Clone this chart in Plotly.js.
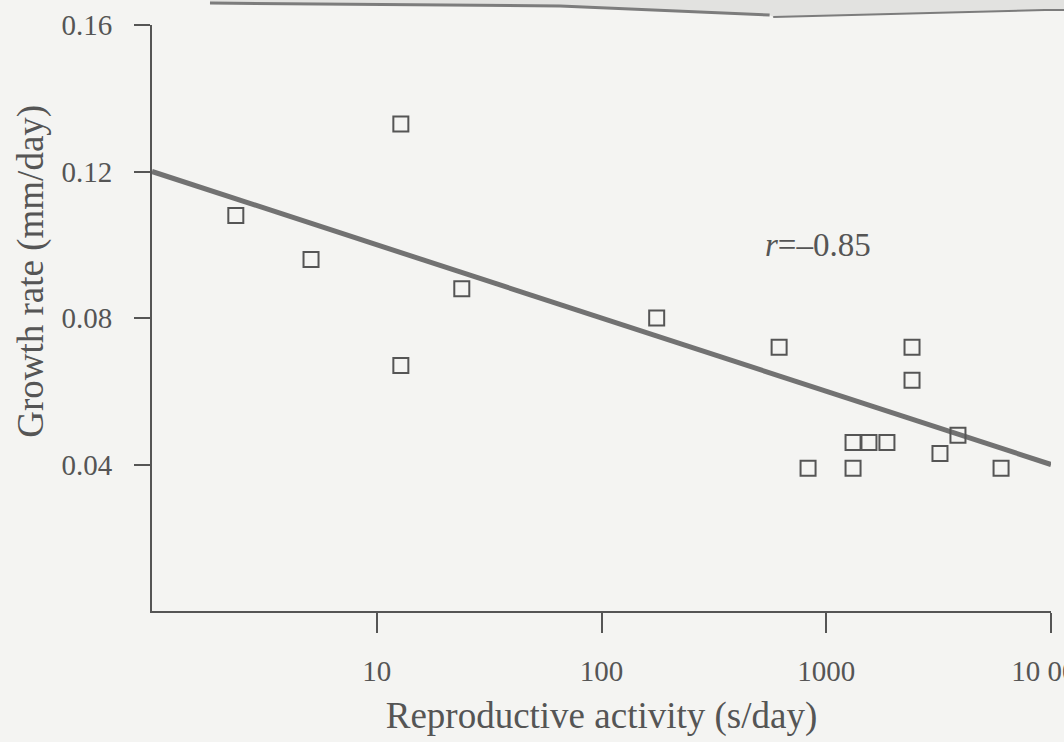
<!DOCTYPE html>
<html>
<head>
<meta charset="utf-8">
<script src="https://cdn.plot.ly/plotly-3.0.1.min.js"></script>
<style>html,body{margin:0;padding:0;background:#f4f4f2;overflow:hidden;}</style>
</head>
<body>
<div id="chart" style="width:1064px;height:742px;"></div>
<script>
// Reproductive activity (s/day)
const activity = [2.36, 5.1, 12.8, 12.8, 23.9, 176, 617, 830, 1316, 1316, 1549, 1862, 2408, 2408, 3206, 3855, 5995];
// Growth rate (mm/day)
const growth = [0.108, 0.096, 0.133, 0.067, 0.088, 0.080, 0.072, 0.039, 0.046, 0.039, 0.046, 0.046, 0.072, 0.063, 0.043, 0.048, 0.039];
// Regression line end points
const fitX = [1, 10000];
const fitY = [0.12, 0.04];
const xTicks = [10, 100, 1000, 10000];
const xTickText = ['10', '100', '1000', '10 000'];
const yTicks = [0.04, 0.08, 0.12, 0.16];
const yTickText = ['0.04', '0.08', '0.12', '0.16'];

const ink = '#555555';
const font = 'Liberation Serif, Times New Roman, serif';

const traces = [
  {
    x: fitX, y: fitY, mode: 'lines', type: 'scatter',
    line: {color: '#727272', width: 5}, hoverinfo: 'skip', showlegend: false
  },
  {
    x: activity, y: growth, mode: 'markers', type: 'scatter',
    marker: {symbol: 'square-open', size: 15, color: ink, line: {color: ink, width: 2}},
    showlegend: false
  }
];

const layout = {
  width: 1064, height: 742,
  paper_bgcolor: '#f4f4f2', plot_bgcolor: '#f4f4f2',
  margin: {l: 152, r: 13, t: 25, b: 131},
  font: {family: font, color: ink},
  xaxis: {
    type: 'log', range: [0, 4], showgrid: false, zeroline: false,
    showline: true, linecolor: ink, linewidth: 2,
    ticks: 'outside', ticklen: 20, tickwidth: 2, tickcolor: ink,
    tickvals: xTicks, ticktext: xTickText, ticklabelstandoff: 13,
    ticklabeloverflow: 'allow',
    tickfont: {family: font, size: 29, color: ink},
    title: {text: 'Reproductive activity (s/day)', font: {family: font, size: 37, color: ink}, standoff: 16},
    automargin: false
  },
  yaxis: {
    range: [0, 0.16], showgrid: false, zeroline: false,
    showline: true, linecolor: ink, linewidth: 2,
    ticks: 'outside', ticklen: 16, tickwidth: 2, tickcolor: ink,
    tickvals: yTicks, ticktext: yTickText, ticklabelstandoff: 16,
    tickfont: {family: font, size: 29, color: ink},
    automargin: false
  },
  annotations: [
    {
      text: 'Growth rate (mm/day)', xref: 'paper', yref: 'paper',
      x: -0.135, y: 0.58, xanchor: 'center', yanchor: 'middle',
      textangle: -90, showarrow: false,
      font: {family: font, size: 37, color: ink}
    },
    {
      text: '<i>r</i>=–0.85', xref: 'x', yref: 'y',
      x: 2.963, y: 0.1, xanchor: 'center', yanchor: 'middle', showarrow: false,
      font: {family: font, size: 33, color: ink}
    }
  ],
  shapes: [
    {
      type: 'path', xref: 'paper', yref: 'paper', layer: 'above',
      path: 'M 0.0645 1.0427 L 0.0645 1.0375 L 0.454 1.0324 L 0.687 1.017 L 0.691 1.0137 L 0.993 1.0256 L 1.0145 1.0256 L 1.0145 1.0427 Z',
      fillcolor: '#e2e2e0', line: {width: 0}
    },
    {
      type: 'path', xref: 'paper', yref: 'paper', layer: 'above',
      path: 'M 0.0645 1.0375 L 0.454 1.0324 L 0.687 1.017',
      line: {color: '#7c7c7c', width: 3}
    },
    {
      type: 'path', xref: 'paper', yref: 'paper', layer: 'above',
      path: 'M 0.691 1.0137 L 0.993 1.0256 L 1.0145 1.0256',
      line: {color: '#7c7c7c', width: 2}
    }
  ]
};

Plotly.newPlot('chart', traces, layout, {displayModeBar: false, staticPlot: true});
</script>
</body>
</html>
